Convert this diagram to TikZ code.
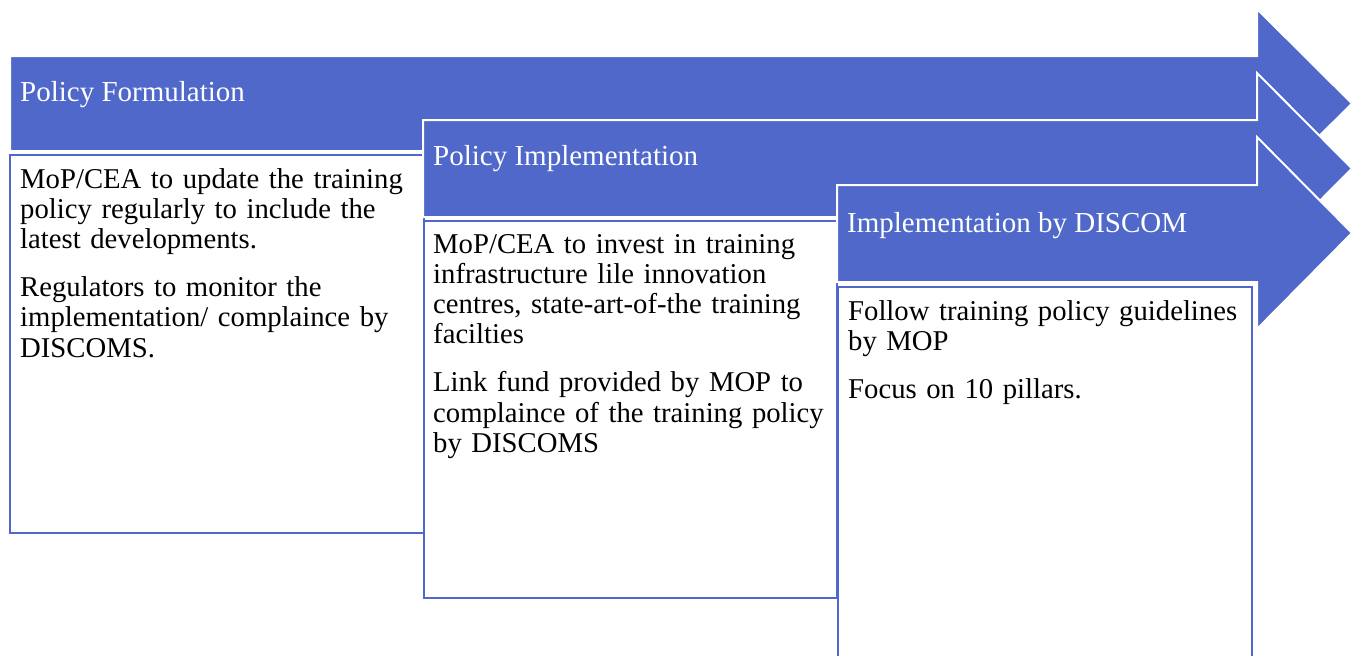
\documentclass[tikz,border=0pt]{standalone}
\usepackage{fontspec}
\setmainfont{Liberation Serif}
\definecolor{stageblue}{RGB}{79,104,201}
\begin{document}
\begin{tikzpicture}[x=1pt,y=-1pt,
  stagearrow/.style={fill=stageblue,draw=white,line width=2pt,line join=miter},
  notebox/.style={fill=white,draw=stageblue,line width=2.2pt},
  stagetitle/.style={anchor=base west,inner sep=0pt,text=white,
    font=\fontsize{29}{30}\selectfont},
  notetext/.style={anchor=base west,inner sep=0pt,text width=410pt,align=left,
    font=\fontsize{28.7}{30.3}\selectfont}]
\clip (0,0) rectangle (1353,656);
\fill[white] (0,0) rectangle (1353,656);

% stage 1: policy formulation
\draw[stagearrow] (10,56) -- (1257,56) -- (1257,9) -- (1352,103.5) -- (1257,198) -- (1257,151) -- (10,151) -- cycle;
\node[stagetitle] (t1) at (20,101) {Policy Formulation};
\draw[notebox] (10,155) rectangle (424,533);
\node[notetext] (n1) at (20,188) {MoP/CEA to update the training\\
policy regularly to include the\\
latest developments.\\[17.5pt]
Regulators to monitor the\\
implementation/ complaince by\\
DISCOMS.};

% stage 2: policy implementation
\draw[stagearrow] (423,120) -- (1257,120) -- (1257,73) -- (1352,168.5) -- (1257,264) -- (1257,217) -- (423,217) -- cycle;
\node[stagetitle] (t2) at (433,165) {Policy Implementation};
\draw[notebox] (424,221) rectangle (837,598);
\node[notetext] (n2) at (433,253) {MoP/CEA to invest in training\\
infrastructure lile innovation\\
centres, state-art-of-the training\\
facilties\\[17.5pt]
Link fund provided by MOP to\\
complaince of the training policy\\
by DISCOMS};

% stage 3: implementation by DISCOM
\draw[stagearrow] (837,185) -- (1257,185) -- (1257,137) -- (1352,233) -- (1257,329) -- (1257,282) -- (837,282) -- cycle;
\node[stagetitle] (t3) at (847,232) {Implementation by DISCOM};
\draw[notebox] (838,287) rectangle (1252,720);
\node[notetext] (n3) at (848,320) {Follow training policy guidelines\\
by MOP\\[17.5pt]
Focus on 10 pillars.};
\end{tikzpicture}
\end{document}
